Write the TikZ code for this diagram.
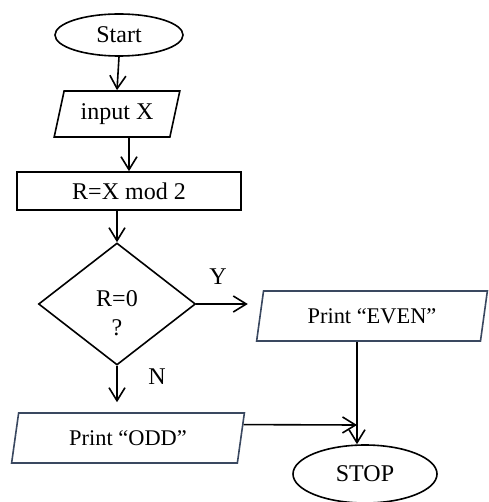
\documentclass[tikz,border=0pt]{standalone}
\usepackage{fontspec}
\setmainfont{Liberation Serif}
\usetikzlibrary{shapes.geometric,arrows.meta,calc}
\definecolor{slate}{RGB}{58,72,96}

\begin{document}
\begin{tikzpicture}[x=.5pt,y=-.5pt,line width=.8pt,font=\fontsize{12}{14.4}\selectfont,
  term/.style={draw,ellipse,inner sep=0pt},
  io/.style={draw,trapezium,trapezium stretches=true,inner sep=0pt},
  proc/.style={draw,rectangle,inner sep=0pt},
  decide/.style={draw,diamond,inner sep=0pt,align=center},
  prt/.style={io,draw=slate,font=\fontsize{11.2}{13}\selectfont},
  arr/.style={-{Straight Barb[length=6.5pt,width=8pt]}}]
\useasboundingbox (0,0) rectangle (488,502);
\node[term,minimum width=64pt,minimum height=21pt] (start) at (119,35) {Start};
\node[io,trapezium left angle=72,trapezium right angle=108,minimum width=63pt,minimum height=23pt] (input) at (117,114) {input X};
\node[proc,minimum width=112pt,minimum height=19pt] (calc) at (129,191) {R=X mod 2};
\node[decide,minimum width=78.5pt,minimum height=61pt] (check) at (117,304) {\rule{0pt}{17.5pt}R=0\\?};
\node (ylab) at (218,277) {Y};
\node (nlab) at (157,377) {N};
\node[prt,trapezium left angle=75,trapezium right angle=105,minimum width=115.5pt,minimum height=25pt] (even) at (372,316) {Print “EVEN”};
\node[prt,trapezium left angle=76,trapezium right angle=104,minimum width=117pt,minimum height=25pt] (odd) at (128,438) {Print “ODD”};
\node[term,minimum width=72pt,minimum height=29pt] (stop) at (365,474) {STOP};
\coordinate (join) at (357,425);
\draw[arr] (start.south) -- (input.north);
\draw[arr] (calc.north |- input.south) -- (calc.north);
\draw[arr] (check.north |- calc.south) -- (check.north);
\draw[arr,shorten >=5.75pt] (check.east) -- (check.east -| even.west);
\draw[arr,shorten >=5pt] (check.south) -- (check.south |- odd.north);
\draw[arr] (join |- even.south) -- (join |- stop.north);
\draw[arr] ($(odd.top right corner)!.24!(odd.bottom right corner)$) -- (join);
\end{tikzpicture}
\end{document}
